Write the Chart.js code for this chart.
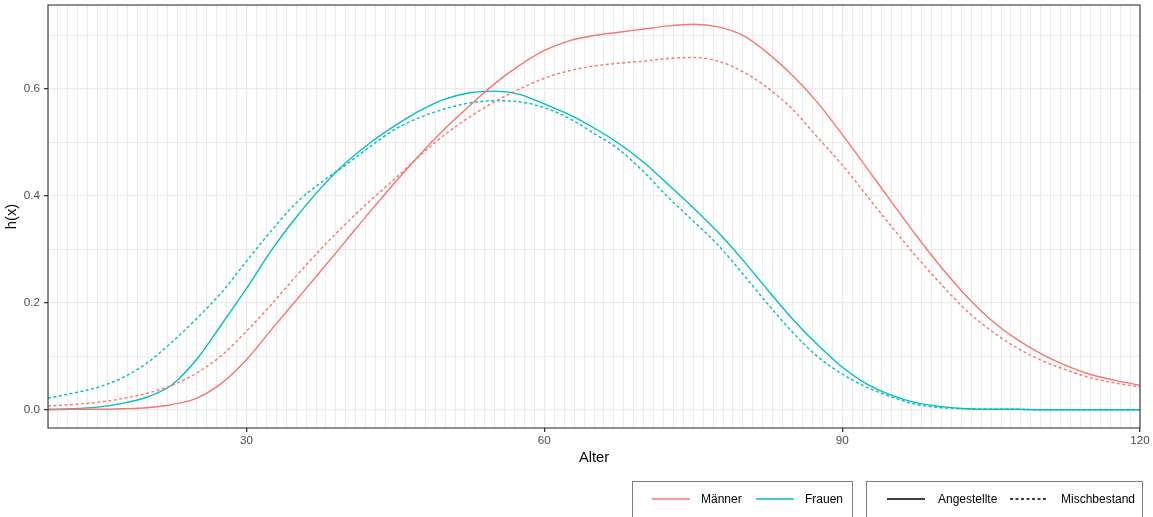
<!DOCTYPE html>
<html>
<head>
<meta charset="utf-8">
<script src="https://cdn.jsdelivr.net/npm/chart.js@4.4.1/dist/chart.umd.min.js"></script>
<style>
  body { margin: 0; background: #fff; font-family: "Liberation Sans", Arial, sans-serif; }
  #wrap { position: relative; width: 1153px; height: 517px; overflow: hidden; }
  .box { position: absolute; top: 481px; height: 60px; border: 1px solid #7f7f7f; box-sizing: border-box; }
  .lbl { position: absolute; top: 492px; font-size: 12px; color: #000; line-height: 14px; }
  svg.key { position: absolute; top: 494px; }
</style>
</head>
<body>
<div id="wrap">
  <canvas id="chart" width="1153" height="517"></canvas>
  <div class="box" style="left:632px; width:221px;"></div>
  <div class="box" style="left:866px; width:277px;"></div>
  <svg class="key" style="left:652px" width="38" height="10"><line x1="0" y1="5" x2="38" y2="5" stroke="#F8766D" stroke-width="1.4"/></svg>
  <div class="lbl" style="left:701px">Männer</div>
  <svg class="key" style="left:756px" width="38" height="10"><line x1="0" y1="5" x2="38" y2="5" stroke="#00BFC4" stroke-width="1.4"/></svg>
  <div class="lbl" style="left:805px">Frauen</div>
  <svg class="key" style="left:887px" width="38" height="10"><line x1="0" y1="5" x2="38" y2="5" stroke="#000" stroke-width="1.4"/></svg>
  <div class="lbl" style="left:938px">Angestellte</div>
  <svg class="key" style="left:1010px" width="38" height="10"><line x1="0" y1="5" x2="38" y2="5" stroke="#000" stroke-width="1.4" stroke-dasharray="3,2.5"/></svg>
  <div class="lbl" style="left:1061px">Mischbestand</div>
</div>
<script>
// Alter (x) in 2.5-year steps
const ages = [10, 12.5, 15, 17.5, 20, 22.5, 25, 27.5, 30, 32.5, 35, 37.5, 40, 42.5, 45, 47.5, 50,
  52.5, 55, 57.5, 60, 62.5, 65, 67.5, 70, 72.5, 75, 77.5, 80, 82.5, 85, 87.5, 90, 92.5, 95,
  97.5, 100, 102.5, 105, 107.5, 110, 112.5, 115, 117.5, 120];

const maennerAngestellte = [0.000, 0.001, 0.001, 0.002, 0.004, 0.010, 0.022, 0.050, 0.094, 0.150,
  0.205, 0.260, 0.316, 0.372, 0.426, 0.478, 0.526, 0.569, 0.610, 0.644, 0.672, 0.690, 0.700,
  0.706, 0.712, 0.718, 0.721, 0.716, 0.700, 0.667, 0.625, 0.575, 0.515, 0.452, 0.388, 0.325,
  0.266, 0.213, 0.168, 0.133, 0.105, 0.083, 0.066, 0.055, 0.046];
const maennerMisch = [0.007, 0.010, 0.014, 0.021, 0.031, 0.046, 0.069, 0.102, 0.147, 0.197,
  0.250, 0.301, 0.348, 0.392, 0.433, 0.476, 0.515, 0.548, 0.576, 0.600, 0.620, 0.634, 0.643,
  0.648, 0.652, 0.657, 0.659, 0.652, 0.632, 0.602, 0.562, 0.510, 0.458, 0.400, 0.342, 0.286,
  0.234, 0.186, 0.148, 0.117, 0.093, 0.075, 0.060, 0.050, 0.043];
const frauenAngestellte = [0.001, 0.002, 0.005, 0.012, 0.024, 0.047, 0.095, 0.160, 0.227, 0.298,
  0.360, 0.415, 0.462, 0.500, 0.532, 0.560, 0.581, 0.593, 0.596, 0.590, 0.572, 0.552, 0.527,
  0.498, 0.463, 0.421, 0.378, 0.332, 0.280, 0.224, 0.170, 0.122, 0.080, 0.048, 0.027, 0.013,
  0.006, 0.002, 0.001, 0.001, 0.000, 0.000, 0.000, 0.000, 0.000];
const frauenMisch = [0.022, 0.031, 0.042, 0.060, 0.088, 0.127, 0.171, 0.220, 0.278, 0.335,
  0.387, 0.425, 0.458, 0.493, 0.525, 0.547, 0.563, 0.574, 0.578, 0.576, 0.565, 0.545, 0.517,
  0.487, 0.445, 0.397, 0.353, 0.308, 0.254, 0.198, 0.145, 0.100, 0.067, 0.042, 0.024, 0.010,
  0.004, 0.002, 0.001, 0.001, 0.000, 0.000, 0.000, 0.000, 0.000];

const xLabels = [30, 60, 90, 120];
const yLabels = [0, 0.2, 0.4, 0.6];
const yGrid = [0, 0.1, 0.2, 0.3, 0.4, 0.5, 0.6, 0.7];

const RED = '#F8766D';
const CYAN = '#00BFC4';

function series(label, values, color, dashed) {
  return {
    label: label,
    data: ages.map((a, i) => ({ x: a, y: values[i] })),
    borderColor: color,
    borderWidth: 1.4,
    borderDash: dashed ? [3, 2.5] : [],
    pointRadius: 0,
    fill: false,
    cubicInterpolationMode: 'monotone'
  };
}

const panelBorder = {
  id: 'panelBorder',
  afterDraw(chart) {
    const a = chart.chartArea;
    const ctx = chart.ctx;
    ctx.save();
    ctx.strokeStyle = '#333333';
    ctx.lineWidth = 1.1;
    ctx.strokeRect(a.left, a.top, a.right - a.left, a.bottom - a.top);
    ctx.restore();
  }
};

const isXLabel = v => xLabels.includes(Math.round(v * 100) / 100);
const isYLabel = v => yLabels.some(l => Math.abs(l - v) < 1e-6);

new Chart(document.getElementById('chart').getContext('2d'), {
  type: 'line',
  data: {
    datasets: [
      series('Männer Angestellte', maennerAngestellte, RED, false),
      series('Männer Mischbestand', maennerMisch, RED, true),
      series('Frauen Angestellte', frauenAngestellte, CYAN, false),
      series('Frauen Mischbestand', frauenMisch, CYAN, true)
    ]
  },
  options: {
    responsive: false,
    animation: false,
    layout: { padding: { left: 0, top: 5, right: 13, bottom: 49 } },
    plugins: { legend: { display: false }, tooltip: { enabled: false } },
    scales: {
      x: {
        type: 'linear',
        min: 10,
        max: 120,
        afterBuildTicks: scale => {
          const t = [];
          for (let v = 10; v <= 120; v++) t.push({ value: v });
          scale.ticks = t;
        },
        afterFit: scale => { scale.height = 40; },
        ticks: {
          autoSkip: false,
          maxRotation: 0,
          padding: 2,
          color: '#4D4D4D',
          font: { family: 'Liberation Sans', size: 11.7 },
          callback: v => isXLabel(v) ? String(v) : ''
        },
        grid: {
          color: '#EBEBEB',
          lineWidth: ctx => (ctx.tick && isXLabel(ctx.tick.value)) ? 1.3 : 1,
          tickLength: 4,
          tickColor: ctx => (ctx.tick && isXLabel(ctx.tick.value)) ? '#333333' : 'rgba(0,0,0,0)'
        },
        border: { display: false },
        title: {
          display: true,
          text: 'Alter',
          color: '#000',
          font: { family: 'Liberation Sans', size: 14.7 },
          padding: { top: 0, bottom: 1 }
        }
      },
      y: {
        type: 'linear',
        min: -0.034,
        max: 0.757,
        afterBuildTicks: scale => { scale.ticks = yGrid.map(v => ({ value: v })); },
        afterFit: scale => {
          scale.width = 48;
          scale.paddingTop = 0;
          scale.paddingBottom = 0;
        },
        ticks: {
          padding: 4,
          color: '#4D4D4D',
          font: { family: 'Liberation Sans', size: 11.7 },
          callback: v => isYLabel(v) ? v.toFixed(1) : ''
        },
        grid: {
          color: '#EBEBEB',
          lineWidth: ctx => (ctx.tick && isYLabel(ctx.tick.value)) ? 1.3 : 1,
          tickLength: 4,
          tickColor: ctx => (ctx.tick && isYLabel(ctx.tick.value)) ? '#333333' : 'rgba(0,0,0,0)'
        },
        border: { display: false },
        title: {
          display: true,
          text: 'h(x)',
          color: '#000',
          font: { family: 'Liberation Sans', size: 14.7 },
          padding: { top: 3, bottom: 0 }
        }
      }
    }
  },
  plugins: [panelBorder]
});
</script>
</body>
</html>
